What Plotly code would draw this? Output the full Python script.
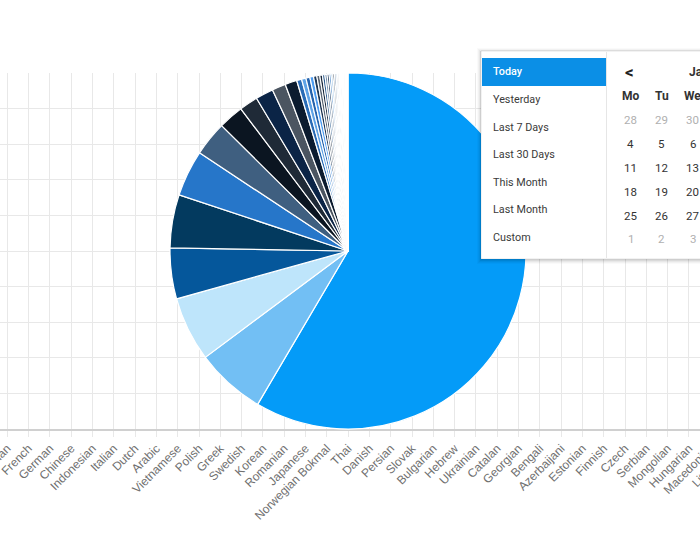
import plotly.graph_objects as go

# ---------------- data ----------------
languages = ["English", "Spanish", "Portuguese", "Russian", "French", "German", "Chinese",
             "Indonesian", "Italian", "Dutch", "Arabic", "Vietnamese", "Polish", "Greek",
             "Swedish", "Korean", "Romanian", "Japanese", "Norwegian Bokmal", "Thai",
             "Danish", "Persian", "Slovak", "Bulgarian", "Hebrew", "Ukrainian", "Catalan",
             "Georgian", "Bengali", "Azerbaijani", "Estonian", "Finnish", "Czech", "Serbian",
             "Mongolian", "Hungarian", "Macedonian", "Lithuanian", "Slovenian", "Latvian"]
counts = [5847, 633, 586, 461, 483, 419, 314, 228, 169, 161, 125, 108,
          45, 40, 36, 33, 30, 27, 24, 22, 20, 18, 17, 16, 15, 14, 13, 12,
          11, 10, 9, 8, 8, 7, 6, 6, 5, 5, 4, 4]
slice_colors = ["#049bf8", "#72bff4", "#bee5fb", "#05579b", "#033a5f", "#2676c9",
                "#3f5f80", "#0b1521", "#1f2a37", "#0b2446", "#4b5561", "#0b1b2f",
                "#2a6cb6", "#5fa3e6", "#2563ad", "#4d9cf0", "#1c3553", "#5a6674",
                "#17273b", "#2f5e91", "#6f8aa6", "#0f2c4f", "#3d7fc4", "#8fb9e0",
                "#46505c", "#1a4a7a", "#a9c4dd", "#2d3a48", "#7fa6cc", "#c8d6e3",
                "#5c7a99", "#dfe8f0", "#9aa6b2", "#e9eef3", "#b8c2cc", "#f2f5f8",
                "#d5dbe1", "#eef2f6", "#f7f9fb", "#e2e7ec"]

menu_items = ["Today", "Yesterday", "Last 7 Days", "Last 30 Days", "This Month", "Last Month", "Custom"]
weekdays = ["Mo", "Tu", "We"]
calendar_rows = [[28, 29, 30],
                 [4, 5, 6],
                 [11, 12, 13],
                 [18, 19, 20],
                 [25, 26, 27],
                 [1, 2, 3]]
month_title = "Ja"

# ---------------- geometry helpers ----------------
W, H = 700, 544
T, B = 73, 429          # plot area top / bottom in px
PH = B - T


def px(x):
    return x / W


def py(y):
    return (B - y) / PH


fig = go.Figure()

# invisible traces registering the cartesian axes
fig.add_trace(go.Scatter(x=languages, y=[None] * len(languages), xaxis="x", yaxis="y",
                         mode="markers", showlegend=False, hoverinfo="skip"))
fig.add_trace(go.Scatter(x=languages, y=[None] * len(languages), xaxis="x2", yaxis="y",
                         mode="markers", showlegend=False, hoverinfo="skip"))

cx, r = 348, 178
fig.add_trace(go.Pie(
    labels=languages, values=counts, sort=False, direction="clockwise", rotation=0,
    marker=dict(colors=slice_colors, line=dict(color="white", width=1.2)),
    textinfo="none", showlegend=False,
    domain=dict(x=[px(cx - r), px(cx + r)], y=[0, 1]),
))

step = 21.30
r0 = 3 - 7.3 / step
r1 = r0 + W / step
tickfont = dict(family="Liberation Sans, Arial", size=12, color="#707070")

fig.update_layout(
    width=W, height=H,
    margin=dict(l=0, r=0, t=T, b=H - B, autoexpand=False),
    paper_bgcolor="white", plot_bgcolor="white",
    showlegend=False,
    xaxis=dict(type="category", categoryorder="array", categoryarray=languages,
               range=[r0, r1], showgrid=True, gridcolor="#e8e8e8", gridwidth=1,
               showline=True, linecolor="#d0d0d0", linewidth=1.5, automargin=False,
               ticks="outside", ticklen=6, tickcolor="#e8e8e8",
               tickangle=-45, tickfont=tickfont, zeroline=False, fixedrange=True),
    xaxis2=dict(type="category", categoryorder="array", categoryarray=languages,
                overlaying="x", anchor="y", side="bottom", automargin=False,
                range=[r0 + 2, r1 + 2], showgrid=False, showline=False,
                ticks="outside", ticklen=6, tickcolor="rgba(0,0,0,0)",
                tickvals=languages[36:38], ticklabelshift=int(round(2 * step)),
                tickangle=-45, tickfont=tickfont, zeroline=False, fixedrange=True),
    yaxis=dict(range=[0, 10], dtick=1, tick0=0, showticklabels=False, automargin=False,
               showgrid=True, gridcolor="#e8e8e8", gridwidth=1,
               zeroline=False, showline=False, ticks="", fixedrange=True),
)

# ---------------- date-range picker overlay ----------------
shapes = []
PL, PR, PT, PB = 481, 712, 51, 259
for k, a in [(4, 0.02), (3, 0.03), (2, 0.04), (1, 0.06)]:
    shapes.append(dict(type="rect", xref="paper", yref="paper", layer="above",
                       x0=px(PL - k), x1=px(PR + k), y0=py(PT - k + 1), y1=py(PB + k + 1),
                       fillcolor=f"rgba(0,0,0,{a})", line=dict(width=0)))
shapes.append(dict(type="rect", xref="paper", yref="paper", layer="above",
                   x0=px(PL), x1=px(PR), y0=py(PT), y1=py(PB),
                   fillcolor="white", line=dict(color="rgba(0,0,0,0.10)", width=1)))
shapes.append(dict(type="rect", xref="paper", yref="paper", layer="above",
                   x0=px(482), x1=px(606), y0=py(58), y1=py(86),
                   fillcolor="#0b8fe6", line=dict(width=0)))
shapes.append(dict(type="line", xref="paper", yref="paper", layer="above",
                   x0=px(606.5), x1=px(606.5), y0=py(52), y1=py(258),
                   line=dict(color="#e6e6e6", width=1)))

annotations = []
menu_y0, menu_dy = 72, 27.5
for i, item in enumerate(menu_items):
    annotations.append(dict(
        xref="paper", yref="paper", x=px(491), y=py(menu_y0 + i * menu_dy),
        xanchor="left", yanchor="middle", showarrow=False, text=item,
        font=dict(family="Roboto", size=10.8, color="white" if i == 0 else "#3a3a3a",
                  weight=500 if i == 0 else 400)))

annotations.append(dict(xref="paper", yref="paper", x=px(629), y=py(71.5),
                        xanchor="center", yanchor="middle", showarrow=False, text="<",
                        font=dict(family="Roboto", size=17, color="#222222", weight=700)))
annotations.append(dict(xref="paper", yref="paper", x=px(687), y=py(72),
                        xanchor="left", yanchor="middle", showarrow=False, text=month_title,
                        font=dict(family="Roboto", size=12, color="#333333", weight=700)))

col_x0, col_dx = 630.7, 31.0
for j, d in enumerate(weekdays):
    annotations.append(dict(xref="paper", yref="paper", x=px(col_x0 + j * col_dx), y=py(96),
                            xanchor="center", yanchor="middle", showarrow=False, text=d,
                            font=dict(family="Roboto", size=12, color="#333333", weight=700)))

row_y0, row_dy = 119.5, 24
for i, row in enumerate(calendar_rows):
    for j, d in enumerate(row):
        outside = (i == 0 and d > 20) or (i == len(calendar_rows) - 1 and d < 10)
        annotations.append(dict(xref="paper", yref="paper",
                                x=px(col_x0 + j * col_dx), y=py(row_y0 + i * row_dy),
                                xanchor="center", yanchor="middle", showarrow=False, text=str(d),
                                font=dict(family="Roboto", size=11.5,
                                          color="#b0b0b0" if outside else "#333333")))

fig.update_layout(shapes=shapes, annotations=annotations)
fig.write_html("out.html")
